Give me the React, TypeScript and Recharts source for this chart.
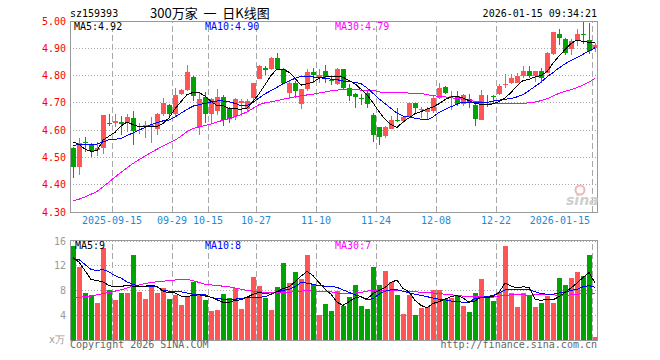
import React from 'react';
import { ComposedChart, Bar, Line, XAxis, YAxis, CartesianGrid, ReferenceLine } from 'recharts';

const dates = [
  '2025-09-04','2025-09-05','2025-09-08','2025-09-09','2025-09-10','2025-09-11','2025-09-12','2025-09-15','2025-09-16','2025-09-17',
  '2025-09-18','2025-09-19','2025-09-22','2025-09-23','2025-09-24','2025-09-25','2025-09-26','2025-09-29','2025-09-30','2025-10-09',
  '2025-10-10','2025-10-13','2025-10-14','2025-10-15','2025-10-16','2025-10-17','2025-10-20','2025-10-21','2025-10-22','2025-10-23',
  '2025-10-24','2025-10-27','2025-10-28','2025-10-29','2025-10-30','2025-10-31','2025-11-03','2025-11-04','2025-11-05','2025-11-06',
  '2025-11-07','2025-11-10','2025-11-11','2025-11-12','2025-11-13','2025-11-14','2025-11-17','2025-11-18','2025-11-19','2025-11-20',
  '2025-11-21','2025-11-24','2025-11-25','2025-11-26','2025-11-27','2025-11-28','2025-12-01','2025-12-02','2025-12-03','2025-12-04',
  '2025-12-05','2025-12-08','2025-12-09','2025-12-10','2025-12-11','2025-12-12','2025-12-15','2025-12-16','2025-12-17','2025-12-18',
  '2025-12-19','2025-12-22','2025-12-23','2025-12-24','2025-12-25','2025-12-26','2025-12-29','2025-12-30','2025-12-31','2026-01-05',
  '2026-01-06','2026-01-07','2026-01-08','2026-01-09','2026-01-12','2026-01-13','2026-01-14','2026-01-15',
];

const opens = [
  4.535,4.465,4.557,4.545,4.528,4.534,4.627,4.628,4.631,4.625,
  4.645,4.610,4.612,4.615,4.603,4.658,4.693,4.658,4.731,4.747,
  4.794,4.612,4.721,4.660,4.670,4.723,4.682,4.652,4.699,4.676,
  4.719,4.789,4.827,4.823,4.866,4.825,4.735,4.774,4.694,4.749,
  4.814,4.793,4.815,4.782,4.768,4.823,4.756,4.731,4.719,4.735,
  4.654,4.612,4.580,4.603,4.636,4.632,4.648,4.698,4.672,4.666,
  4.670,4.716,4.758,4.721,4.725,4.694,4.713,4.691,4.639,4.696,
  4.724,4.731,4.766,4.774,4.774,4.798,4.817,4.798,4.817,4.811,
  4.878,4.951,4.933,4.899,4.927,4.951,4.929,4.900,
];
const highs = [
  4.540,4.570,4.575,4.553,4.555,4.656,4.659,4.660,4.651,4.658,
  4.670,4.628,4.633,4.648,4.661,4.716,4.695,4.756,4.750,4.840,
  4.798,4.737,4.740,4.719,4.752,4.727,4.686,4.718,4.713,4.713,
  4.774,4.839,4.835,4.868,4.882,4.828,4.784,4.779,4.752,4.825,
  4.829,4.823,4.838,4.798,4.829,4.823,4.768,4.735,4.731,4.747,
  4.664,4.612,4.617,4.652,4.682,4.652,4.700,4.700,4.686,4.686,
  4.725,4.774,4.762,4.743,4.743,4.731,4.731,4.694,4.747,4.727,
  4.727,4.768,4.805,4.807,4.811,4.835,4.835,4.817,4.829,4.885,
  4.960,4.970,4.939,4.933,4.970,5.000,4.992,4.921,
];
const lows = [
  4.426,4.435,4.520,4.502,4.505,4.511,4.615,4.612,4.584,4.593,
  4.546,4.585,4.572,4.553,4.584,4.650,4.652,4.649,4.728,4.745,
  4.705,4.584,4.627,4.627,4.655,4.615,4.627,4.639,4.652,4.670,
  4.700,4.786,4.801,4.820,4.823,4.768,4.715,4.716,4.678,4.743,
  4.774,4.774,4.774,4.764,4.765,4.750,4.707,4.682,4.691,4.682,
  4.556,4.544,4.572,4.603,4.629,4.627,4.645,4.661,4.643,4.639,
  4.661,4.713,4.733,4.674,4.688,4.690,4.682,4.617,4.639,4.686,
  4.694,4.730,4.756,4.770,4.771,4.791,4.792,4.776,4.774,4.808,
  4.876,4.911,4.874,4.874,4.909,4.915,4.880,4.888,
];
const closes = [
  4.466,4.554,4.553,4.525,4.535,4.656,4.625,4.634,4.621,4.649,
  4.597,4.617,4.618,4.618,4.658,4.698,4.659,4.727,4.747,4.813,
  4.725,4.715,4.660,4.713,4.723,4.637,4.642,4.713,4.705,4.705,
  4.771,4.835,4.822,4.866,4.825,4.771,4.774,4.743,4.749,4.814,
  4.801,4.801,4.796,4.779,4.825,4.756,4.725,4.721,4.717,4.694,
  4.584,4.576,4.610,4.636,4.632,4.648,4.698,4.680,4.676,4.678,
  4.716,4.753,4.735,4.724,4.694,4.727,4.698,4.642,4.727,4.694,
  4.722,4.762,4.770,4.792,4.798,4.817,4.798,4.817,4.792,4.884,
  4.958,4.939,4.884,4.927,4.951,4.948,4.890,4.911,
];

const ma5 = [
  4.557,4.548,4.530,4.523,4.524,4.563,4.578,4.592,4.615,4.630,
  4.620,4.613,4.612,4.612,4.613,4.625,4.645,4.678,4.705,4.730,
  4.738,4.738,4.725,4.705,4.690,4.690,4.680,4.678,4.677,4.680,
  4.705,4.733,4.766,4.800,4.824,4.824,4.812,4.790,4.765,4.770,
  4.776,4.790,4.795,4.798,4.798,4.794,4.782,4.770,4.750,4.730,
  4.700,4.668,4.640,4.620,4.610,4.630,4.645,4.660,4.668,4.677,
  4.685,4.697,4.712,4.722,4.723,4.718,4.708,4.697,4.695,4.695,
  4.696,4.705,4.718,4.738,4.762,4.782,4.786,4.795,4.800,4.815,
  4.845,4.872,4.895,4.918,4.930,4.925,4.922,4.921,
];
const ma10 = [
  4.545,4.546,4.547,4.548,4.549,4.556,4.565,4.566,4.570,4.580,
  4.590,4.600,4.610,4.620,4.628,4.634,4.637,4.648,4.662,4.676,
  4.688,4.693,4.698,4.703,4.707,4.707,4.704,4.698,4.690,4.690,
  4.702,4.718,4.733,4.745,4.757,4.770,4.780,4.790,4.797,4.797,
  4.795,4.792,4.790,4.787,4.785,4.780,4.778,4.775,4.770,4.755,
  4.735,4.715,4.697,4.680,4.662,4.652,4.648,4.644,4.640,4.638,
  4.648,4.665,4.676,4.686,4.695,4.703,4.703,4.700,4.700,4.702,
  4.706,4.710,4.713,4.716,4.722,4.730,4.745,4.760,4.776,4.795,
  4.811,4.828,4.843,4.855,4.866,4.878,4.890,4.902,
];
const ma30 = [
  4.340,4.347,4.355,4.365,4.375,4.392,4.410,4.428,4.445,4.462,
  4.478,4.492,4.505,4.518,4.530,4.542,4.553,4.563,4.578,4.595,
  4.606,4.612,4.617,4.622,4.630,4.636,4.642,4.650,4.657,4.667,
  4.680,4.693,4.700,4.704,4.708,4.713,4.718,4.722,4.726,4.729,
  4.732,4.736,4.740,4.744,4.747,4.748,4.748,4.748,4.747,4.747,
  4.746,4.740,4.738,4.738,4.737,4.737,4.736,4.735,4.735,4.730,
  4.726,4.724,4.722,4.719,4.716,4.713,4.709,4.706,4.704,4.700,
  4.698,4.698,4.698,4.698,4.698,4.698,4.700,4.703,4.708,4.715,
  4.725,4.735,4.742,4.748,4.756,4.765,4.776,4.790,
];

const volumes = [
  15.2,11.85,7.65,7.22,6.03,14.87,8.08,6.47,7.65,7.65,
  13.74,7.76,6.68,8.84,7.65,8.46,6.68,7.22,5.66,7.11,
  9.43,7.38,6.47,4.69,4.85,7.38,6.79,8.46,5.06,6.73,
  10.24,8.73,6.84,4.85,8.62,12.5,9.16,11.05,9.81,13.74,
  8.89,3.99,5.82,4.69,7.92,5.50,6.95,8.89,5.50,5.06,
  11.8,8.89,11.2,9.38,7.27,4.20,7.27,4.04,5.23,5.39,
  8.08,8.08,6.57,6.73,7.11,5.50,4.53,7.54,9.91,6.84,
  6.30,7.76,15.19,7.54,5.39,7.54,7.27,5.39,6.03,7.11,
  6.03,10.08,8.89,10.08,11.05,10.34,13.74,0.54,
];
const volMa5 = [
  13.3,12.6,11.2,9.8,9.6,9.4,8.8,8.6,8.6,8.9,
  8.7,8.7,8.7,8.8,8.7,7.9,7.6,7.6,7.1,7.0,
  7.2,7.3,7.1,6.9,6.5,6.1,6.1,6.4,6.5,6.9,
  7.4,7.7,7.5,7.4,7.8,8.3,8.6,9.4,10.3,11.1,
  10.4,9.3,8.2,7.4,6.1,5.6,6.2,6.8,7.0,6.6,
  7.5,8.0,8.5,9.3,9.7,8.3,7.8,6.4,5.6,5.2,
  5.9,6.2,6.6,7.0,7.2,6.8,6.1,6.3,6.9,6.9,
  7.0,7.7,9.2,8.7,8.4,8.6,8.5,6.6,6.4,6.6,
  6.5,7.0,7.7,8.4,9.2,10.1,10.9,9.2,
];
const volMa10 = [
  13.1,13.0,12.2,11.4,11.2,11.4,11.0,10.4,10.0,9.4,
  9.0,8.7,8.7,8.6,8.6,8.0,7.9,7.9,7.8,7.6,
  7.4,7.4,7.3,6.9,6.7,6.6,6.6,6.6,6.7,6.9,
  6.9,6.9,7.0,7.4,7.8,8.0,8.2,8.6,9.3,9.2,
  9.0,8.8,8.7,8.7,8.5,8.1,7.7,7.3,7.0,6.5,
  6.7,7.4,7.9,8.1,8.1,7.9,7.6,7.4,7.2,7.0,
  6.8,6.6,6.5,6.3,6.2,6.1,6.1,6.7,6.9,7.0,
  7.2,7.6,8.1,8.1,8.1,8.1,8.2,7.8,7.5,7.4,
  7.4,7.6,7.7,8.0,8.2,8.6,8.8,8.5,
];
const volMa30 = [
  6.8,6.9,7.0,7.1,7.3,7.5,7.7,7.9,8.1,8.4,
  8.7,8.9,9.1,9.3,9.4,9.5,9.6,9.7,9.8,9.8,
  9.6,9.3,9.0,8.9,8.8,8.7,8.6,8.4,8.2,8.0,
  7.9,7.8,7.7,7.6,7.6,7.6,7.7,7.8,7.9,8.0,
  7.9,7.8,7.8,7.8,7.6,7.5,7.5,7.6,7.7,7.9,
  8.0,8.0,8.0,8.0,8.0,7.9,7.9,7.8,7.7,7.6,
  7.6,7.5,7.4,7.3,7.2,7.1,7.1,7.1,7.1,7.0,
  6.9,7.1,7.2,7.3,7.4,7.3,7.2,7.3,7.3,7.4,
  7.3,7.2,7.2,7.3,7.4,7.5,7.6,7.5,
];

const priceTicks = [4.3, 4.4, 4.5, 4.6, 4.7, 4.8, 4.9, 5.0];
const volTicks = [4, 8, 12, 16];
const gridDates = ['2025-09-15','2025-09-29','2025-10-15','2025-10-27','2025-11-10','2025-11-24','2025-12-08','2025-12-22','2026-01-15'];
const gridLabels = ['2025-09-15','09-29','10-15','10-27','11-10','11-24','12-08','12-22','2026-01-15'];

const RED = '#ff5555';
const GREEN = '#00a400';
const GRID = '#a8a8a8';
const MONO = "'DejaVu Sans Mono', monospace";

const data = dates.map((d, i) => ({
  date: d,
  open: opens[i],
  high: highs[i],
  low: lows[i],
  close: closes[i],
  range: [lows[i], highs[i]],
  ma5: ma5[i],
  ma10: ma10[i],
  ma30: ma30[i],
  vol: volumes[i],
  vma5: volMa5[i],
  vma10: volMa10[i],
  vma30: volMa30[i],
}));

const Candle = (props: any) => {
  const { x, y, width, height, payload } = props;
  if (x == null || payload == null) return null;
  const { open, close, high, low } = payload;
  const up = close >= open;
  const color = up ? RED : GREEN;
  const k = high > low ? height / (high - low) : 0;
  const yO = y + (high - open) * k;
  const yC = y + (high - close) * k;
  const left = Math.floor(x);
  const w = Math.round(width);
  const cx = left + Math.floor(w / 2) + 0.5;
  const top = Math.round(Math.min(yO, yC));
  const bot = Math.round(Math.max(yO, yC));
  const bh = Math.max(1, bot - top);
  return (
    <g>
      <line x1={cx} x2={cx} y1={Math.round(y)} y2={Math.round(y + height)} stroke={color} strokeWidth={1} shapeRendering="crispEdges" />
      <rect x={left} y={top} width={w} height={bh} fill={color} shapeRendering="crispEdges" />
    </g>
  );
};

const VolBar = (props: any) => {
  const { x, y, width, height, payload } = props;
  if (x == null || payload == null) return null;
  const color = payload.close >= payload.open ? RED : GREEN;
  const top = Math.round(y);
  const bot = Math.round(y + height);
  return <rect x={Math.floor(x)} y={top} width={Math.round(width)} height={Math.max(0, bot - top)} fill={color} shapeRendering="crispEdges" />;
};

const DateTick = (props: any) => {
  const { x, y, payload, index } = props;
  const gi = gridDates.indexOf(payload.value);
  if (gi < 0) return null;
  const last = index === dates.length - 1;
  return (
    <text x={last ? x - 5 : x - 3} y={y + 12} textAnchor={last ? 'end' : 'middle'} fill="#1c8ad6" fontSize={10} fontFamily={MONO}>
      {gridLabels[gi]}
    </text>
  );
};

const PriceTick = (props: any) => {
  const { x, y, payload } = props;
  return (
    <text x={x} y={y} dy={3.5} textAnchor="end" fill="#ff0000" fontSize={10} fontFamily={MONO}>
      {Number(payload.value).toFixed(2)}
    </text>
  );
};

const VolTick = (props: any) => {
  const { x, y, payload } = props;
  return (
    <text x={x} y={y} dy={3.5} textAnchor="end" fill="#999999" fontSize={10} fontFamily={MONO}>
      {payload.value}
    </text>
  );
};

const lineCommon = { type: 'linear' as const, strokeWidth: 1, dot: false, activeDot: false, isAnimationActive: false, shapeRendering: 'crispEdges' };

export default function App() {
  return (
    <div style={{ position: 'absolute', left: 0, top: 0, width: 660, height: 360, background: '#ffffff', overflow: 'hidden' }}>
      <div style={{ position: 'absolute', left: 0, top: 0 }}>
        <ComposedChart width={660} height={230} data={data} margin={{ top: 21, right: 62, bottom: 0, left: 0 }}>
          <CartesianGrid vertical={false} stroke={GRID} strokeDasharray="1 2" shapeRendering="crispEdges" />
          <XAxis dataKey="date" type="category" interval={0} height={18} axisLine={false} tickLine={false} tickSize={0} tickMargin={0} tick={<DateTick />} />
          <YAxis domain={[4.3, 5.0]} ticks={priceTicks} width={70} axisLine={false} tickLine={false} tickSize={0} tickMargin={4} tick={<PriceTick />} allowDataOverflow />
          {gridDates.map((d) => (
            <ReferenceLine key={d} x={d} position="start" stroke={GRID} strokeDasharray="6 3" shapeRendering="crispEdges" />
          ))}
          <Bar dataKey="range" barSize={5} shape={<Candle />} isAnimationActive={false} />
          <Line dataKey="ma30" stroke="#ff00ff" {...(lineCommon as any)} />
          <Line dataKey="ma10" stroke="#0000ff" {...(lineCommon as any)} />
          <Line dataKey="ma5" stroke="#000000" {...(lineCommon as any)} />
        </ComposedChart>
      </div>
      <div style={{ position: 'absolute', left: 0, top: 220 }}>
        <ComposedChart width={660} height={120} data={data} margin={{ top: 21, right: 62, bottom: 0, left: 0 }}>
          <CartesianGrid vertical={false} stroke={GRID} strokeDasharray="1 2" shapeRendering="crispEdges" />
          <XAxis dataKey="date" type="category" hide />
          <YAxis domain={[0, 16]} ticks={volTicks} width={70} axisLine={false} tickLine={false} tickSize={0} tickMargin={4} tick={<VolTick />} />
          {gridDates.map((d) => (
            <ReferenceLine key={d} x={d} position="start" stroke={GRID} strokeDasharray="6 3" shapeRendering="crispEdges" />
          ))}
          <Bar dataKey="vol" barSize={5} shape={<VolBar />} isAnimationActive={false} />
          <Line dataKey="vma30" stroke="#ff00ff" {...(lineCommon as any)} />
          <Line dataKey="vma10" stroke="#0000ff" {...(lineCommon as any)} />
          <Line dataKey="vma5" stroke="#000000" {...(lineCommon as any)} />
        </ComposedChart>
      </div>
      <div style={{ position: 'absolute', left: 70, top: 21, width: 528, height: 192, boxSizing: 'border-box', border: '1px solid #999999', pointerEvents: 'none' }} />
      <div style={{ position: 'absolute', left: 70, top: 240, width: 528, height: 101, boxSizing: 'border-box', border: '1px solid #999999', pointerEvents: 'none' }} />
      <svg width={660} height={360} style={{ position: 'absolute', left: 0, top: 0, pointerEvents: 'none' }}>
        <text x={70} y={17} fontSize={10} fontFamily={MONO} fill="#000">sz159393</text>
        <text x={150} y={18} fontSize={13} fontFamily="'Noto Sans CJK SC', sans-serif" fill="#000" style={{ whiteSpace: 'pre' }}>300万家  一  日K线图</text>
        <text x={597} y={17} fontSize={10} fontFamily={MONO} fill="#000" textAnchor="end">2026-01-15 09:34:21</text>
        <text x={74} y={30} fontSize={10} fontFamily={MONO} fill="#000">MA5:4.92</text>
        <text x={205} y={30} fontSize={10} fontFamily={MONO} fill="#0000ff">MA10:4.90</text>
        <text x={335} y={30} fontSize={10} fontFamily={MONO} fill="#ff00ff">MA30:4.79</text>
        <text x={75} y={249} fontSize={10} fontFamily={MONO} fill="#000">MA5:9</text>
        <text x={205} y={249} fontSize={10} fontFamily={MONO} fill="#0000ff">MA10:8</text>
        <text x={335} y={249} fontSize={10} fontFamily={MONO} fill="#ff00ff">MA30:7</text>
        <text x={49} y={343} fontSize={10} fontFamily={MONO} fill="#999999">x万</text>
        <text x={70} y={348} fontSize={10} fontFamily={MONO} fill="#666666">Copyright 2026 SINA.COM</text>
        <text x={597} y={348} fontSize={10} fontFamily={MONO} fill="#666666" textAnchor="end">http://finance.sina.com.cn</text>
        <circle cx={580} cy={190} r={4.5} fill="none" stroke="#f2b4b4" strokeWidth={2} />
        <text x={566} y={205} fontSize={14} fontWeight="bold" fontStyle="italic" fontFamily="'DejaVu Sans', sans-serif" fill="#cfcfcf">sina</text>
      </svg>
    </div>
  );
}
